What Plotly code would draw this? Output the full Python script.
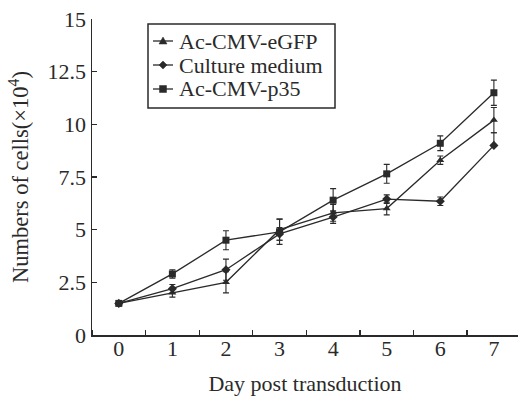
import plotly.graph_objects as go

days = [0, 1, 2, 3, 4, 5, 6, 7]

egfp = [1.5, 2.0, 2.5, 5.0, 5.8, 6.0, 8.3, 10.2]
egfp_err = [0.0, 0.2, 0.5, 0.5, 0.4, 0.3, 0.2, 0.6]

medium = [1.5, 2.2, 3.1, 4.8, 5.6, 6.45, 6.35, 9.0]
medium_err_plus = [0.0, 0.2, 0.5, 0.3, 0.3, 0.2, 0.2, 0.6]
medium_err_minus = [0.0, 0.2, 0.5, 0.3, 0.3, 0.2, 0.2, 0.0]

p35 = [1.5, 2.9, 4.5, 4.9, 6.4, 7.65, 9.1, 11.5]
p35_err = [0.0, 0.2, 0.45, 0.6, 0.55, 0.45, 0.35, 0.6]

series_names = ["Ac-CMV-eGFP", "Culture medium", "Ac-CMV-p35"]

y_ticks = [0, 2.5, 5, 7.5, 10, 12.5, 15]
y_ticktext = ["0", "2.5", "5", "7.5", "10", "12.5", "15"]

ink = "#2a2a2a"
font_family = "Liberation Serif"

W, H = 518, 396
ML, MR, MT, MB = 92, 0, 19, 61
PW, PH = W - ML - MR, H - MT - MB


def px(x):
    return (x - ML) / PW


def py(y):
    return (H - MB - y) / PH


fig = go.Figure()


def add(name, y, sym, size, err_p, err_m=None):
    ey = dict(type="data", array=err_p, color=ink, thickness=1.1, width=3)
    if err_m is not None:
        ey.update(symmetric=False, arrayminus=err_m)
    fig.add_trace(go.Scatter(
        x=days, y=y, name=name, mode="lines+markers", showlegend=False,
        line=dict(color=ink, width=1.3),
        marker=dict(symbol=sym, size=size, color=ink),
        error_y=ey,
    ))


add(series_names[0], egfp, "triangle-up", 7, egfp_err)
add(series_names[1], medium, "diamond", 7, medium_err_plus, medium_err_minus)
add(series_names[2], p35, "square", 7, p35_err)

# manual legend (box, sample lines, marker glyphs, labels)
shapes = [dict(type="rect", xref="paper", yref="paper",
               x0=px(148), x1=px(335), y0=py(108), y1=py(24),
               line=dict(color=ink, width=1.5), fillcolor="white", layer="above")]
annotations = []
rows = [41, 65, 89]
for i, (name, r) in enumerate(zip(series_names, rows)):
    shapes.append(dict(type="line", xref="paper", yref="paper",
                       x0=px(153), x1=px(173), y0=py(r), y1=py(r),
                       line=dict(color=ink, width=1.3), layer="above"))
    cx = 163
    if i == 0:
        path = f"M{px(cx-4)},{py(r+3)} L{px(cx+4)},{py(r+3)} L{px(cx)},{py(r-4)} Z"
    elif i == 1:
        path = f"M{px(cx-4)},{py(r)} L{px(cx)},{py(r-4)} L{px(cx+4)},{py(r)} L{px(cx)},{py(r+4)} Z"
    else:
        path = f"M{px(cx-3.5)},{py(r-3.5)} L{px(cx+3.5)},{py(r-3.5)} L{px(cx+3.5)},{py(r+3.5)} L{px(cx-3.5)},{py(r+3.5)} Z"
    shapes.append(dict(type="path", xref="paper", yref="paper", path=path,
                       fillcolor=ink, line=dict(color=ink, width=0.5), layer="above"))
    annotations.append(dict(xref="paper", yref="paper", x=px(177), y=py(r),
                            xanchor="left", yanchor="middle", showarrow=False,
                            text=name, font=dict(family=font_family, size=22, color=ink)))

fig.update_layout(
    width=W, height=H,
    margin=dict(l=ML, r=MR, t=MT, b=MB, autoexpand=False),
    paper_bgcolor="white", plot_bgcolor="white",
    font=dict(family=font_family, size=22, color=ink),
    showlegend=False,
    shapes=shapes,
    annotations=annotations,
    xaxis=dict(
        range=[-0.5, 7.45], tickvals=days, ticktext=[str(d) for d in days],
        ticks="", showline=True, linecolor=ink, linewidth=1.5,
        showgrid=False, zeroline=False, ticklabelstandoff=-7,
        tickfont=dict(family=font_family, size=22),
        minor=dict(tickmode="linear", tick0=0.5, dtick=1, ticks="inside",
                   ticklen=5, tickcolor=ink, tickwidth=1.3, showgrid=False),
        title=dict(text="Day post transduction", standoff=15,
                   font=dict(family=font_family, size=22)),
    ),
    yaxis=dict(
        range=[0, 15], tickvals=y_ticks, ticktext=y_ticktext,
        ticks="inside", ticklen=5, tickcolor=ink, tickwidth=1.3,
        showline=True, linecolor=ink, linewidth=1.5,
        showgrid=False, zeroline=False,
        tickfont=dict(family=font_family, size=22),
        title=dict(text="Numbers of cells(\u00d710<sup>4</sup>)", standoff=12,
                   font=dict(family=font_family, size=22.5)),
    ),
)

fig.write_html("out.html",
               config={"displayModeBar": False, "staticPlot": True},
               post_script="document.body.style.margin='0';document.body.style.padding='0';")
